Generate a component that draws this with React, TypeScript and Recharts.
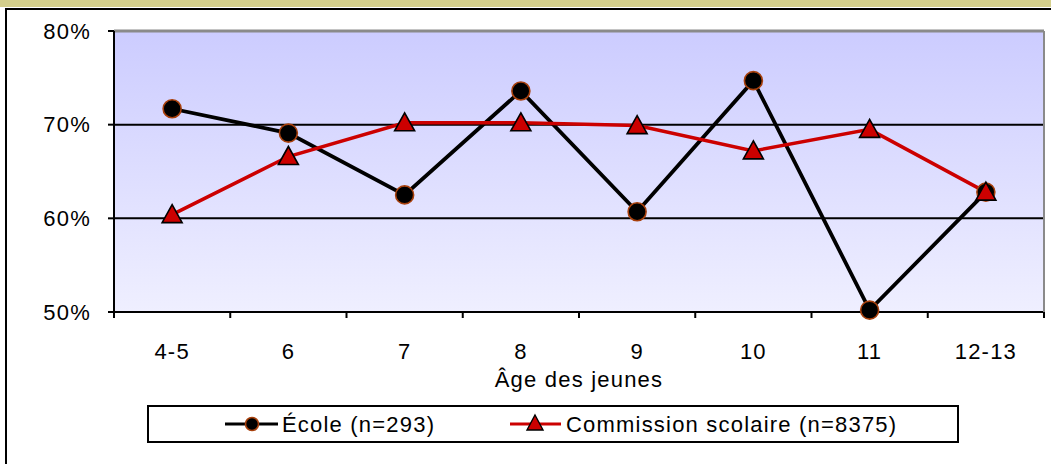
import React from "react"
import {
  CartesianGrid,
  Legend,
  Line,
  LineChart,
  ReferenceLine,
  XAxis,
  YAxis,
} from "recharts"

const ages = ["4-5", "6", "7", "8", "9", "10", "11", "12-13"]
const ecole = [71.7, 69.1, 62.5, 73.6, 60.7, 74.7, 50.2, 62.8]
const commission = [60.4, 66.6, 70.2, 70.2, 69.9, 67.2, 69.5, 62.8]
const yTicks = [50, 60, 70, 80]

const data = ages.map((age, i) => ({
  age,
  ecole: ecole[i],
  commission: commission[i],
}))

const FONT = "'Liberation Sans', Arial, sans-serif"
const textStyle = { fill: "#000", fontSize: 22, fontFamily: FONT, letterSpacing: 1.2 }
const X_TICK_MARGIN = 31

const CircleDot = (props: any) => {
  const { cx, cy } = props
  if (cx == null || cy == null) return null
  return <circle cx={cx} cy={cy} r={9} fill="#000" stroke="#a8400c" strokeWidth={1.6} />
}

const TriangleDot = (props: any) => {
  const { cx, cy } = props
  if (cx == null || cy == null) return null
  const points = `${cx},${cy - 10} ${cx + 10},${cy + 8} ${cx - 10},${cy + 8}`
  return <polygon points={points} fill="#cc0000" stroke="#000" strokeWidth={1.6} strokeLinejoin="miter" />
}

// label + tick marks at the category boundaries (Excel style)
const AgeTick = (props: any) => {
  const { x, y, payload, index, visibleTicksCount } = props
  const half = payload.offset || 0
  const axisY = y - X_TICK_MARGIN
  const left = payload.coordinate - half
  const right = payload.coordinate + half
  return (
    <g>
      <line x1={left} y1={axisY} x2={left} y2={axisY + 6} stroke="#000" strokeWidth={2} />
      {index === visibleTicksCount - 1 && (
        <line x1={right} y1={axisY} x2={right} y2={axisY + 6} stroke="#000" strokeWidth={2} />
      )}
      <text x={x} y={y} dy={16} textAnchor="middle" {...textStyle}>
        {payload.value}
      </text>
    </g>
  )
}

const LegendBox = () => (
  <div style={{ width: 808, height: 34, border: "2px solid #000", background: "#fff", position: "relative" }}>
    <svg width={808} height={34} style={{ position: "absolute", left: 0, top: 0 }}>
      <line x1={76} y1={17} x2={129} y2={17} stroke="#000" strokeWidth={3} />
      <circle cx={103} cy={17} r={6.5} fill="#000" stroke="#a8400c" strokeWidth={1.6} />
      <text x={133} y={25} {...textStyle}>École (n=293)</text>
      <line x1={361} y1={17} x2={412} y2={17} stroke="#cc0000" strokeWidth={3} />
      <polygon points="386,8 394,23 378,23" fill="#cc0000" stroke="#000" strokeWidth={1.4} />
      <text x={417} y={25} {...textStyle}>Commission scolaire (n=8375)</text>
    </svg>
  </div>
)

export default function App() {
  return (
    <div style={{ position: "fixed", left: 0, top: 0, width: 1051, height: 464, background: "#fff", overflow: "hidden" }}>
      <div style={{ position: "absolute", left: 0, top: 0, width: 1051, height: 7, background: "#d4cf8c", zIndex: 2 }} />
      <div
        style={{
          position: "absolute",
          left: 5,
          top: 8,
          width: 1100,
          height: 500,
          borderLeft: "2px solid #000",
          borderTop: "2px solid #000",
        }}
      />
      <div style={{ position: "absolute", left: 0, top: 0 }}>
        <LineChart
          width={1051}
          height={464}
          data={data}
          margin={{ top: 31, right: 0, left: 0, bottom: 34 }}
          style={{ fontFamily: FONT }}
        >
          <defs>
            <linearGradient id="plotBg" x1="0" y1="0" x2="0" y2="1">
              <stop offset="0%" stopColor="#ccccff" />
              <stop offset="100%" stopColor="#efefff" />
            </linearGradient>
          </defs>
          <CartesianGrid horizontal={false} vertical={false} fill="url(#plotBg)" />
          <XAxis
            dataKey="age"
            scale="band"
            tickLine={false}
            tickSize={0}
            tickMargin={X_TICK_MARGIN}
            axisLine={{ stroke: "#000", strokeWidth: 2 }}
            tick={<AgeTick />}
            interval={0}
            height={80}
            label={{ value: "Âge des jeunes", position: "insideBottom", offset: 5, ...textStyle }}
          />
          <YAxis
            domain={[50, 80]}
            ticks={yTicks}
            tickFormatter={(v) => `${v}%`}
            width={114}
            tickSize={6}
            tickMargin={17}
            axisLine={{ stroke: "#000", strokeWidth: 2 }}
            tickLine={{ stroke: "#000", strokeWidth: 2 }}
            tick={textStyle}
          />
          <YAxis
            yAxisId="right"
            orientation="right"
            domain={[50, 80]}
            width={7}
            tick={false}
            tickLine={false}
            axisLine={{ stroke: "#8a8a8a", strokeWidth: 2 }}
          />
          <ReferenceLine y={80} stroke="#8a8a8a" strokeWidth={3} />
          <ReferenceLine y={70} stroke="#000" strokeWidth={2} />
          <ReferenceLine y={60} stroke="#000" strokeWidth={2} />
          <Legend
            verticalAlign="bottom"
            content={() => <LegendBox />}
            wrapperStyle={{ left: 147, top: 405, width: 812, height: 38 }}
          />
          <Line
            dataKey="ecole"
            name="École (n=293)"
            stroke="#000"
            strokeWidth={3.8}
            dot={<CircleDot />}
            activeDot={false}
            isAnimationActive={false}
          />
          <Line
            dataKey="commission"
            name="Commission scolaire (n=8375)"
            stroke="#cc0000"
            strokeWidth={3.5}
            dot={<TriangleDot />}
            activeDot={false}
            isAnimationActive={false}
          />
        </LineChart>
      </div>
    </div>
  )
}
